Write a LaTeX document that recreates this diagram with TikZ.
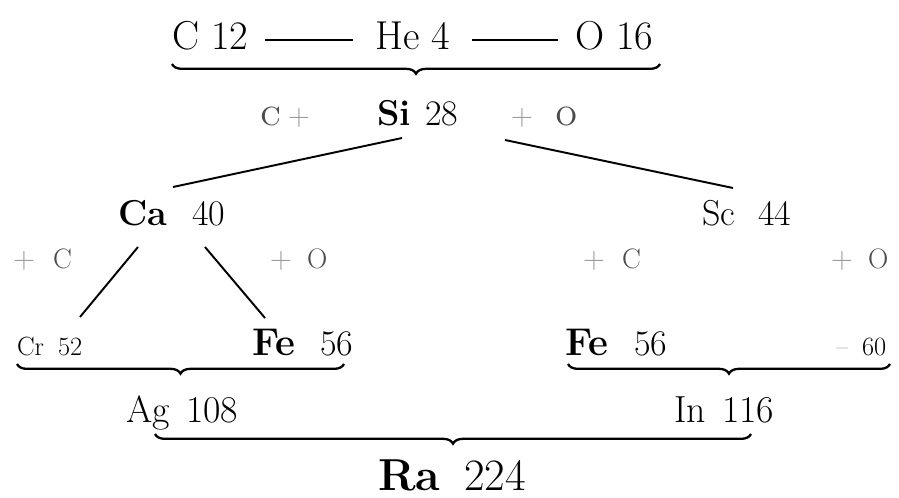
\documentclass[tikz,border=0pt]{standalone}
\usetikzlibrary{decorations.pathreplacing}
\begin{document}
\begin{tikzpicture}[x=0.02cm,y=-0.02cm,
  txt/.style={anchor=base west, inner sep=0pt, outer sep=0pt},
  big/.style={txt, font=\fontsize{23}{27}\selectfont},
  mid/.style={txt, font=\fontsize{20.5}{24}\selectfont},
  fe/.style={txt, font=\fontsize{22}{26}\selectfont},
  agr/.style={txt, font=\fontsize{21.5}{25}\selectfont},
  huge/.style={txt, font=\fontsize{25.5}{30}\selectfont},
  sml/.style={txt, font=\fontsize{15}{18}\selectfont},
  op/.style={txt, text=black!40, font=\fontsize{18}{22}\selectfont},
  opl/.style={txt, text=black!70, font=\fontsize{20}{24}\selectfont},
  opl4/.style={txt, text=black!70, font=\fontsize{16}{20}\selectfont},
  link/.style={line width=1.1pt},
  grp/.style={decorate, decoration={brace, mirror, amplitude=5.5pt}, line width=1.3pt}]
\useasboundingbox (0,0) rectangle (899,497);

% Row 1
\node[big] (c12) at (172,50) {C 12};
\node[big] (he4) at (375,50) {He 4};
\node[big] (o16) at (575,50) {O 16};
\draw[link] ([shift={(17,-10)}]c12.base east) -- ([shift={(-22,-10)}]he4.base west);
\draw[link] ([shift={(22,-10)}]he4.base east) -- ([shift={(-17,-10)}]o16.base west);
\coordinate (t1) at (172,64);
\coordinate (t2) at (660,64);
\draw[grp] (t1) -- (t2);

% Row 2
\node[opl] (c2) at (260,125) {\textsc{c}};
\node[op] (p2a) at (288,125) {$+$};
\node[mid] (si) at (377,125) {\textbf{Si}};
\node[mid] (sin) at (425,125) {28};
\node[op] (p2b) at (511,125) {$+$};
\node[opl] (o2) at (555,125) {\textsc{o}};

% Row 3
\node[mid] (ca) at (118,225) {\textbf{Ca}};
\node[mid] (can) at (192,225) {40};
\node[mid] (sc) at (702,225) {Sc};
\node[mid] (scn) at (758,225) {44};
\draw[link] ([shift={(25,13)}]si.base west) -- ([shift={(55,-38)}]ca.base west);
\draw[link] ([shift={(80,15)}]sin.base west) -- ([shift={(31,-37)}]sc.base west);

% Row 4
\node[op] (p4a) at (13,268) {$+$};
\node[opl4] (c4a) at (53,268) {C};
\node[op] (p4b) at (270,268) {$+$};
\node[opl4] (o4a) at (307,268) {O};
\node[op] (p4c) at (583,268) {$+$};
\node[opl4] (c4b) at (622,268) {C};
\node[op] (p4d) at (831,268) {$+$};
\node[opl4] (o4b) at (868,268) {O};

% Row 5
\node[sml] (cr) at (17,355) {Cr};
\node[sml] (crn) at (58,355) {52};
\node[fe] (fe1) at (252,355) {\textbf{Fe}};
\node[mid] (fe1n) at (320,355) {56};
\node[fe] (fe2) at (565,355) {\textbf{Fe}};
\node[mid] (fe2n) at (634,355) {56};
\node[txt, text=black!50, font=\fontsize{15}{18}\selectfont] (m60) at (836,355) {--};
\node[sml] (n60) at (862,355) {60};
\draw[link] ([shift={(20,22)}]ca.base west) -- ([shift={(63,-38)}]cr.base west);
\draw[link] ([shift={(87,22)}]ca.base west) -- ([shift={(13,-37)}]fe1.base west);

\coordinate (l1) at (17,364);
\coordinate (l2) at (344,364);
\draw[grp] (l1) -- (l2);
\coordinate (r1) at (568,364);
\coordinate (r2) at (890,364);
\draw[grp] (r1) -- (r2);

% Row 6
\node[agr] (ag) at (126,422) {Ag};
\node[agr] (agn) at (186,422) {108};
\node[agr] (in) at (674,422) {In};
\node[agr] (inn) at (722,422) {116};
\coordinate (b1) at (155,434);
\coordinate (b2) at (751,434);
\draw[grp] (b1) -- (b2);

% Row 7
\node[huge] (ra) at (378,490) {\textbf{Ra}};
\node[huge] (ran) at (464,490) {224};
\end{tikzpicture}
\end{document}
